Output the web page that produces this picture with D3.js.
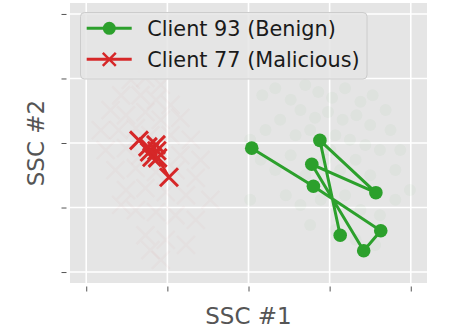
<!DOCTYPE html>
<html><head><meta charset="utf-8">
<script src="https://cdn.jsdelivr.net/npm/d3@7"></script>
<style>html,body{margin:0;padding:0;background:#fff;}svg{display:block;}</style>
</head><body>
<svg id="c" width="450" height="329"></svg>
<script>
// ---- data (arbitrary SSC units) ----
const xTicks = [-20, -10, 0, 10, 20];
const yTicks = [-20, -10, 0, 10, 20];
const legendLabels = ["Client 93 (Benign)", "Client 77 (Malicious)"];

// Client 93 trajectory
const benignX = [0.4, 8.0, 16.3, 14.2, 7.8, 15.7, 8.8, 11.3];
const benignY = [-0.8, -6.7, -13.6, -16.7, -3.3, -7.7, 0.4, -14.3];

// Client 77 trajectory
const malX = [-13.5, -12.4, -11.4, -12.2, -11.3, -11.9, -11.2, -9.8];
const malY = [0.4, -0.6, -0.3, -1.4, -1.2, -2.2, -2.3, -5.3];

// faint background clients
const bgBenignX = [1.7,3.3,5.2,7.0,8.6,10.3,11.9,13.8,15.3,16.9,6.4,8.2,9.8,11.6,13.3,15.0,17.5,3.9,2.1,0.2,5.8,7.6,10.7,12.5,14.4,16.2,18.7,1.5,3.3,5.2,7.0,9.5,11.3,13.2,15.0,18.1,19.9,4.6,6.4,8.9,11.9,13.8,16.2,7.6,10.7,13.2,15.6,0.2,18.1,10.1];
const bgBenignY = [7.4,8.5,6.7,9.0,7.9,7.0,8.5,6.4,7.4,5.1,5.1,3.9,4.8,3.6,4.3,2.8,2.0,3.6,2.0,0.5,1.2,2.0,1.2,0.5,-0.3,-1.1,-1.1,-2.6,-4.2,-1.9,-5.0,-2.6,-4.2,-2.6,-5.0,-4.2,-7.3,-8.1,-9.6,-8.8,-8.1,-10.4,-11.2,-12.7,-13.5,-15.0,-15.8,-8.8,-8.8,-1.1];
const bgMalX = [-14.5,-12.7,-10.8,-15.7,-13.3,-11.4,-9.6,-17.0,-15.1,-12.7,-10.8,-8.4,-18.2,-16.0,-13.9,-12.1,-9.6,-7.1,-17.6,-15.1,-13.3,-10.8,-8.4,-5.9,-16.4,-13.9,-11.4,-9.0,-6.5,-15.1,-12.7,-10.2,-7.7,-4.7,-13.9,-11.4,-9.0,-6.5,-12.7,-10.2,-7.7,-10.8,-12.1,-15.7];
const bgMalY = [9.8,10.1,9.0,7.4,7.4,6.7,5.9,5.1,4.3,4.8,3.6,3.9,2.0,2.0,2.3,1.2,1.2,0.5,-1.1,-0.8,-1.9,-1.1,-1.9,-2.6,-4.2,-3.9,-4.5,-4.2,-5.4,-7.3,-7.0,-7.6,-8.1,-8.8,-10.4,-10.7,-11.2,-11.9,-14.3,-15.0,-15.8,-18.1,-16.6,-9.6];

// ---- styling ----
const GREEN = "#2ca02c", RED = "#d62728";
const svg = d3.select("#c");
const L = 70, R = 427, T = 3, B = 283;
const x = d3.scaleLinear().domain([-22, 22]).range([L, R]);
const y = d3.scaleLinear().domain([-21.7, 21.7]).range([B, T]);

svg.append("rect").attr("x", L).attr("y", T).attr("width", R - L).attr("height", B - T).attr("fill", "#e5e5e5");

// grid
svg.append("g").selectAll("line").data(xTicks).join("line")
  .attr("x1", d => x(d)).attr("x2", d => x(d)).attr("y1", T).attr("y2", B)
  .attr("stroke", "#fff").attr("stroke-width", 1.6);
svg.append("g").selectAll("line").data(yTicks).join("line")
  .attr("y1", d => y(d)).attr("y2", d => y(d)).attr("x1", L).attr("x2", R)
  .attr("stroke", "#fff").attr("stroke-width", 1.6);

// axes (ticks only, no labels)
const xAxis = d3.axisBottom(x).tickValues(xTicks).tickSize(5).tickFormat("");
const gx = svg.append("g").attr("transform", `translate(0,${B + 3.5})`).call(xAxis);
const yAxis = d3.axisLeft(y).tickValues(yTicks).tickSize(5).tickFormat("");
const gy = svg.append("g").attr("transform", `translate(${L - 3.5},0)`).call(yAxis);
[gx, gy].forEach(g => { g.select(".domain").remove(); g.selectAll("line").attr("stroke", "#555").attr("stroke-width", 1); });

// X marker path
function xPath(s) { return `M${-s},${-s}L${s},${s}M${-s},${s}L${s},${-s}`; }

// faint background points
const bgB = bgBenignX.map((v, i) => [v, bgBenignY[i]]);
const bgM = bgMalX.map((v, i) => [v, bgMalY[i]]);
svg.append("g").selectAll("circle").data(bgB).join("circle")
  .attr("cx", d => x(d[0])).attr("cy", d => y(d[1])).attr("r", 6)
  .attr("fill", GREEN).attr("opacity", 0.03);
svg.append("g").selectAll("path").data(bgM).join("path")
  .attr("transform", d => `translate(${x(d[0])},${y(d[1])})`).attr("d", xPath(9))
  .attr("stroke", RED).attr("stroke-width", 2.5).attr("fill", "none").attr("opacity", 0.025);

// trajectories
const ben = benignX.map((v, i) => [v, benignY[i]]);
const mal = malX.map((v, i) => [v, malY[i]]);
const line = d3.line().x(d => x(d[0])).y(d => y(d[1]));
svg.append("path").attr("d", line(mal)).attr("fill", "none").attr("stroke", RED).attr("stroke-width", 2.8);
svg.append("g").selectAll("path").data(mal).join("path")
  .attr("transform", d => `translate(${x(d[0])},${y(d[1])})`).attr("d", xPath(9))
  .attr("stroke", RED).attr("stroke-width", 3).attr("fill", "none");
svg.append("path").attr("d", line(ben)).attr("fill", "none").attr("stroke", GREEN).attr("stroke-width", 3);
svg.append("g").selectAll("circle").data(ben).join("circle")
  .attr("cx", d => x(d[0])).attr("cy", d => y(d[1])).attr("r", 6.8).attr("fill", GREEN);

// legend
const lg = svg.append("g");
lg.append("rect").attr("x", 80.5).attr("y", 12.5).attr("width", 286.5).attr("height", 66.5).attr("rx", 4)
  .attr("fill", "#e5e5e5").attr("fill-opacity", 0.85).attr("stroke", "#cccccc").attr("stroke-width", 1);
const rows = [28.3, 59.3];
lg.append("line").attr("x1", 86.7).attr("x2", 131.7).attr("y1", rows[0]).attr("y2", rows[0]).attr("stroke", GREEN).attr("stroke-width", 3);
lg.append("circle").attr("cx", 109.3).attr("cy", rows[0]).attr("r", 6.5).attr("fill", GREEN);
lg.append("line").attr("x1", 86.7).attr("x2", 131.7).attr("y1", rows[1]).attr("y2", rows[1]).attr("stroke", RED).attr("stroke-width", 3);
lg.append("path").attr("transform", `translate(109.3,${rows[1]})`).attr("d", xPath(6.5)).attr("stroke", RED).attr("stroke-width", 2.5).attr("fill", "none");
lg.selectAll("text").data(legendLabels).join("text")
  .attr("x", 147.3).attr("y", (d, i) => rows[i] + 7.6)
  .attr("font-family", "DejaVu Sans").attr("font-size", 20.8).attr("fill", "#1a1a1a").text(d => d);

// axis titles
svg.append("text").attr("x", (L + R) / 2).attr("y", 324).attr("text-anchor", "middle")
  .attr("font-family", "DejaVu Sans").attr("font-size", 23).attr("fill", "#555").text("SSC #1");
svg.append("text").attr("transform", `translate(44,${(T + B) / 2}) rotate(-90)`).attr("text-anchor", "middle")
  .attr("font-family", "DejaVu Sans").attr("font-size", 23).attr("fill", "#555").text("SSC #2");
</script>
</body></html>
